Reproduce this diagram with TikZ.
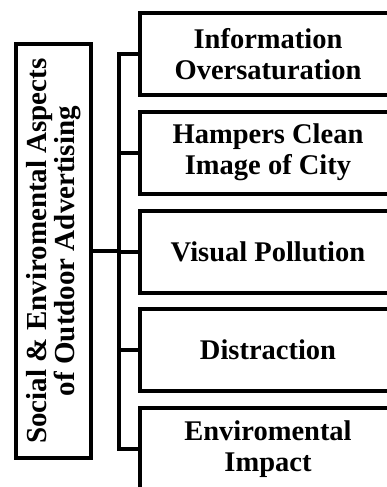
\documentclass[tikz,border=0pt]{standalone}
\usepackage{fontspec}
\setmainfont{Liberation Serif}
\begin{document}
\begin{tikzpicture}[x=1pt,y=-1pt,
  boxtxt/.style={font=\fontsize{28.5}{31}\selectfont\bfseries, align=center},
  rbox/.style={line width=4pt, rectangle, minimum width=252pt, minimum height=78pt, inner sep=0pt, boxtxt},
  lbox/.style={draw, line width=4pt, rectangle, rotate=90, minimum width=414pt, minimum height=75pt, inner sep=0pt,
    font=\fontsize{29}{28.5}\selectfont\bfseries, align=center},
  conn/.style={line width=4pt, line join=miter},
  edge/.style={line width=4pt, line cap=rect}
]
\useasboundingbox (0,0) rectangle (386,487);
\fill[white] (0,0) rectangle (386,487);

\node[lbox] (L) at (53.5,251) {Social \& Enviromental Aspects\\of Outdoor Advertising};

\node[rbox] (b1) at (268,54) {Information\\Oversaturation};
\node[rbox] (b2) at (268,152.5) {Hampers Clean\\Image of City};
\node[rbox] (b3) at (268,251.5) {Visual Pollution};
\node[rbox] (b4) at (268,350) {Distraction};
\node[rbox] (b5) at (268,449) {Enviromental\\Impact};

% open box outlines (right side runs past the picture edge)
\foreach \b in {b1,b2,b3,b4} {
  \draw[edge] (\b.north east -| 388,0) -- (\b.north west) -- (\b.south west) -- (\b.south east -| 388,0);
}
\draw[edge] (b5.north east -| 388,0) -- (b5.north west) -- (b5.west |- 0,488.5) -- (388,488.5);

\coordinate (sp) at (119,251);
\draw[conn] (L.south) -- (L.south -| sp);
\draw[conn] (b1.west) -- (b1.west -| sp) -- (b5.west -| sp) -- (b5.west);
\draw[conn] (b2.west -| sp) -- (b2.west);
\draw[conn] (b3.west -| sp) -- (b3.west);
\draw[conn] (b4.west -| sp) -- (b4.west);
\end{tikzpicture}
\end{document}
